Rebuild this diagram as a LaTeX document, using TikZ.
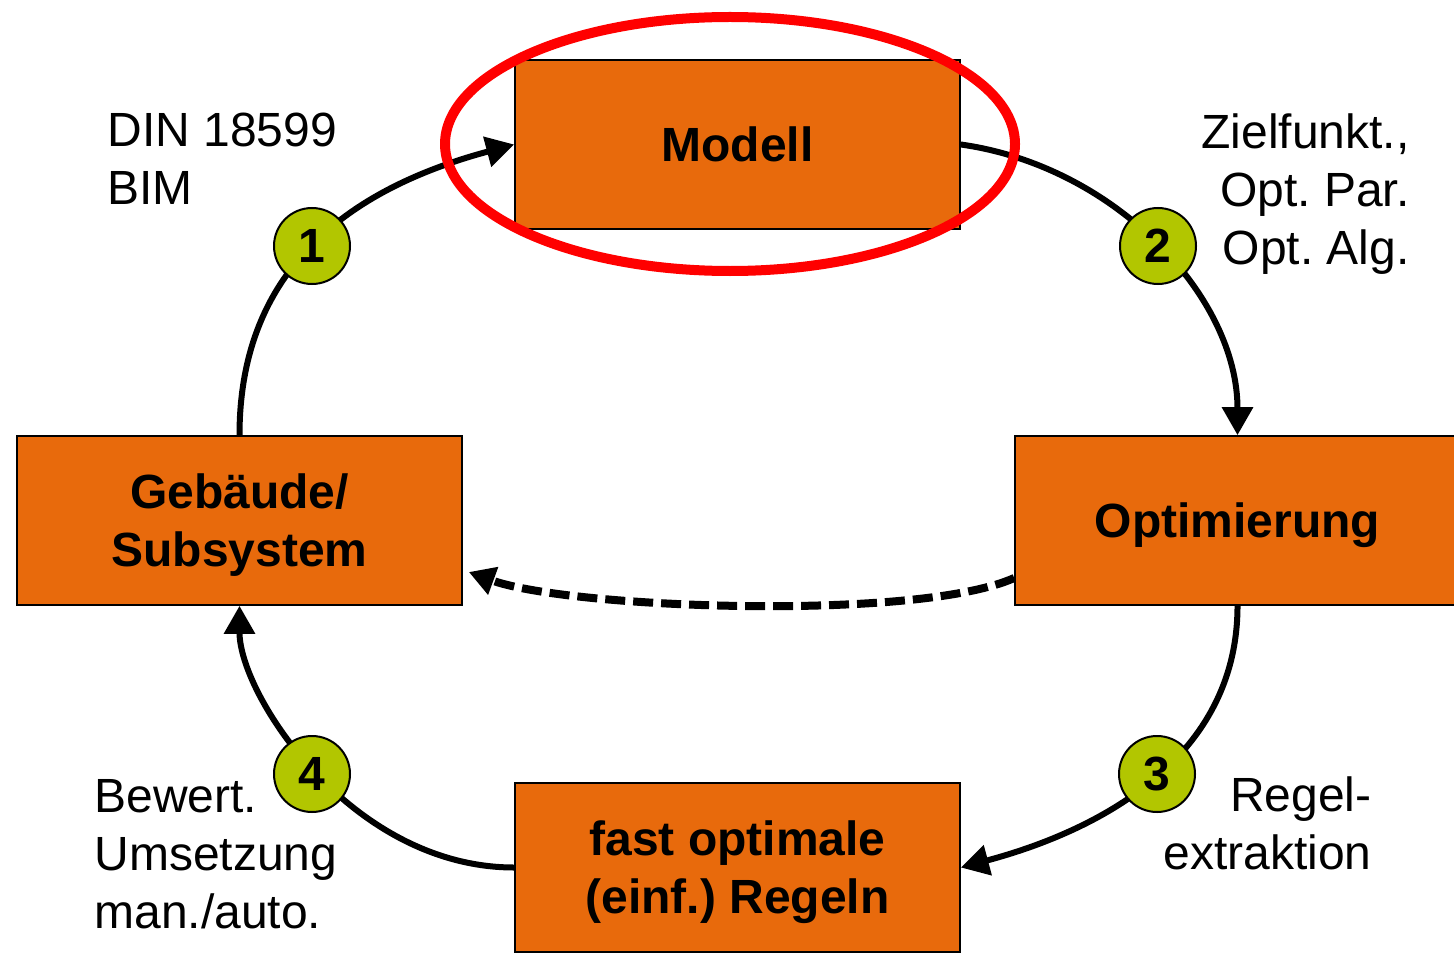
\documentclass[tikz,border=0pt]{standalone}
\usepackage{fontspec}
\setmainfont{Liberation Sans}
\usetikzlibrary{arrows.meta,calc}
\definecolor{boxorange}{RGB}{232,106,12}
\definecolor{numgreen}{RGB}{178,198,0}
\definecolor{ringred}{RGB}{255,0,0}
\frenchspacing
\begin{document}
\begin{tikzpicture}[x=0.5pt,y=0.5pt,
  box/.style={draw=black, line width=0.8pt, fill=boxorange, minimum width=222.5pt,
    minimum height=84.5pt, inner sep=0pt, align=center, text depth=0pt,
    font=\fontsize{24}{29}\selectfont\bfseries},
  num/.style={circle, draw=black, line width=1pt, fill=numgreen, minimum size=38pt,
    inner sep=0pt, font=\fontsize{24}{29}\selectfont\bfseries},
  lbl/.style={inner sep=0pt, font=\fontsize{24}{29}\selectfont},
  flow/.style={line width=3pt, -{Triangle[length=14pt,width=15pt]}},
  back/.style={line width=4pt, dash pattern=on 10pt off 4pt,
    -{Triangle[length=13pt,width=14pt]}},
  ring/.style={draw=ringred, line width=5pt}]
\useasboundingbox (0,0) rectangle (1454,-952);

% boxes
\node[box] (modell) at (737.5,-144.5) {Modell};
\node[box] (geb) at (239.5,-520.5) {Gebäude/\\Subsystem};
\node[box] (opt) at (1237.5,-520.5) {Optimierung};
\node[box] (regeln) at (737.5,-867.5) {fast optimale\\(einf.) Regeln};

% cycle arcs
\draw[flow] (geb.north) to[out=90,in=-165,out looseness=1.03,in looseness=1.13] (modell.west);
\draw[flow] (modell.east) to[out=-8,in=90,out looseness=1,in looseness=0.88] (opt.north);
\draw[flow] (opt.south) to[out=-90,in=15,out looseness=0.96,in looseness=1.07] (regeln.east);
\draw[flow] (regeln.west) to[out=180,in=-90,out looseness=1.1,in looseness=0.6] (geb.south);

% dashed feedback
\draw[back] ([yshift=-28.75pt]opt.west) to[out=-156,in=-20,looseness=0.5] ([xshift=3pt,yshift=-25.75pt]geb.east);

% step numbers
\node[num] (n1) at (312,-246) {1};
\node[num] (n2) at (1158,-246) {2};
\node[num] (n3) at (1157,-774) {3};
\node[num] (n4) at (312,-774) {4};

% labels (base anchor = baseline of last line)
\node[lbl, anchor=base west, align=left] (l1) at (107,-205) {DIN 18599\\BIM};
\node[lbl, anchor=base east, align=right] (l2) at (1410,-264) {Zielfunkt.,\\Opt. Par.\\Opt. Alg.};
\node[lbl, anchor=base east, align=right] (l3) at (1372,-869) {Regel-\\extraktion};
\node[lbl, anchor=base west, align=left] (l4) at (94,-928) {Bewert.\\Umsetzung\\man./auto.};

% highlight ring
\draw[ring] (730,-144) ellipse [x radius=142.5pt, y radius=63.5pt];
\end{tikzpicture}
\end{document}
